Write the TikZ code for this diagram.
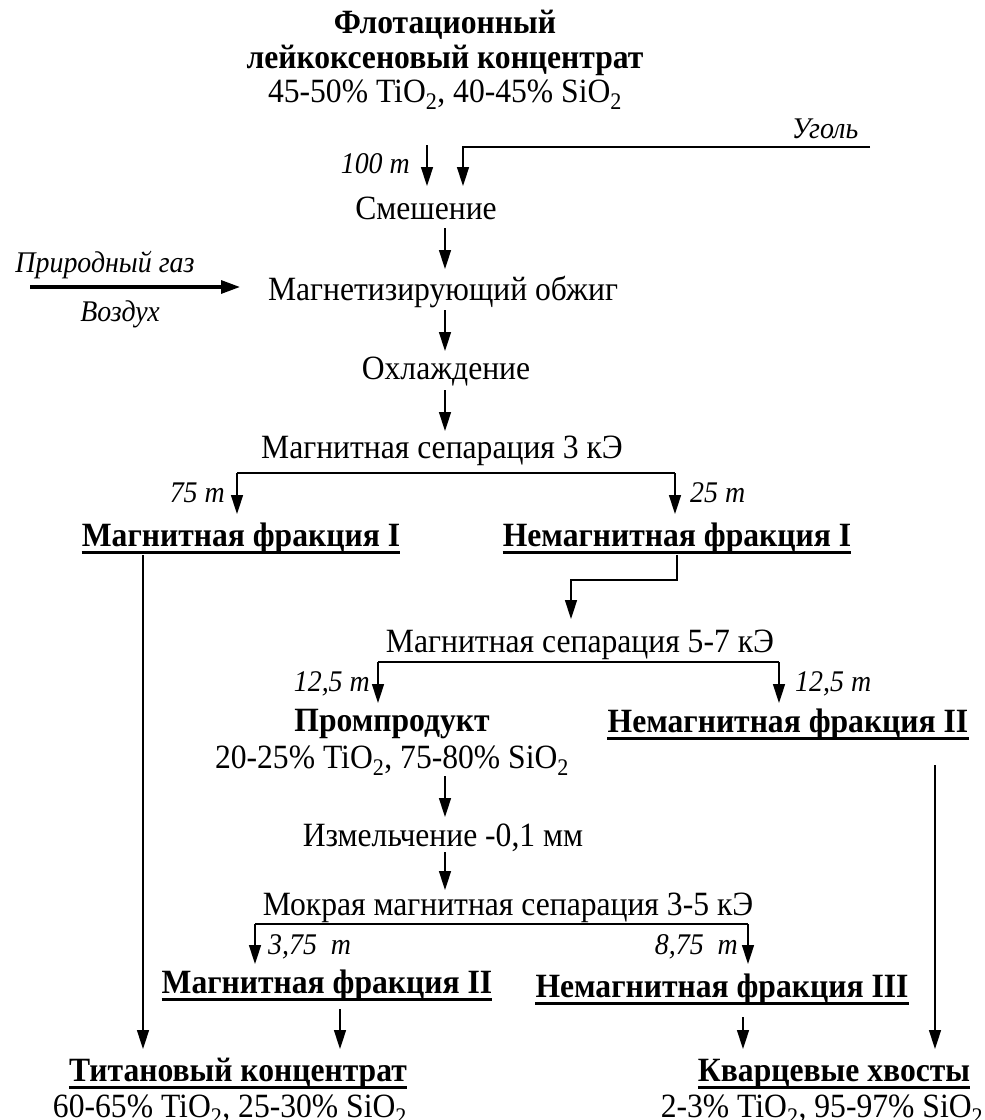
\documentclass[tikz,border=0pt]{standalone}
\usepackage{fontspec}
\setmainfont{Liberation Serif}[FakeStretch=0.93]
\usetikzlibrary{arrows.meta}
\begin{document}
\begin{tikzpicture}[x=1pt,y=-1pt,
  every node/.style={inner sep=0pt, anchor=base, font=\fontsize{34}{38}\selectfont},
  bt/.style={font=\fontsize{34}{38}\selectfont\bfseries},
  it/.style={font=\fontsize{30}{34}\selectfont\itshape},
  arr/.style={line width=1.5pt, -{Triangle[length=19pt,width=12pt]}},
  thickarr/.style={line width=3.2pt, -{Triangle[length=19pt,width=13pt]}},
  ln/.style={line width=1.5pt},
  ul/.style={line width=3pt},
]
\useasboundingbox (0,0) rectangle (985,1120);
% texts
\node[bt] (src1) at (445,33) {Флотационный};
\node[bt] (src2) at (445,68) {лейкоксеновый концентрат};
\node (src3) at (445,102) {45-50\% TiO\textsubscript{2}, 40-45\% SiO\textsubscript{2}};
\node[it] (ugol) at (825,138) {Уголь};
\node[it,anchor=base east] (l100) at (410,173) {100 т};
\node (mix) at (426,219) {Смешение};
\node[it] (gas) at (105,272) {Природный газ};
\node[it] (air) at (120,321) {Воздух};
\node (roast) at (443,300) {Магнетизирующий обжиг};
\node (cool) at (446,379) {Охлаждение};
\node (sep1) at (442,458) {Магнитная сепарация 3 кЭ};
\node[it,anchor=base east] (l75) at (225,502) {75 т};
\node[it,anchor=base west] (l25) at (690,502) {25 т};
\node[bt] (mf1) at (241,546) {Магнитная фракция I};
\node[bt] (nf1) at (677,546) {Немагнитная фракция I};
\node (sep2) at (580,652) {Магнитная сепарация 5-7 кЭ};
\node[it,anchor=base east] (l125a) at (370,691) {12,5 т};
\node[it,anchor=base west] (l125b) at (795,691) {12,5 т};
\node[bt] (pp) at (392,731) {Промпродукт};
\node (pp2) at (392,768) {20-25\% TiO\textsubscript{2}, 75-80\% SiO\textsubscript{2}};
\node[bt] (nf2) at (788,732) {Немагнитная фракция II};
\node (grind) at (443,846) {Измельчение -0,1 мм};
\node (wet) at (508,915) {Мокрая магнитная сепарация 3-5 кЭ};
\node[it,anchor=base west] (l375) at (268,954) {3,75~~т};
\node[it,anchor=base east] (l875) at (738,954) {8,75~~т};
\node[bt] (mf2) at (327,993) {Магнитная фракция II};
\node[bt] (nf3) at (722,997) {Немагнитная фракция III};
\node[bt] (ti) at (238,1081) {Титановый концентрат};
\node (ti2) at (230,1117) {60-65\% TiO\textsubscript{2}, 25-30\% SiO\textsubscript{2}};
\node[bt] (qz) at (834,1081) {Кварцевые хвосты};
\node (qz2) at (822,1117) {2-3\% TiO\textsubscript{2}, 95-97\% SiO\textsubscript{2}};
% underlines
\foreach \n in {mf1,nf1,nf2,mf2,nf3,ti,qz}
  \draw[ul] ([yshift=-6pt]\n.base west) -- ([yshift=-6pt]\n.base east);
% coordinates
\coordinate (a100s) at (427,145); \coordinate (a100e) at (427,186);
\coordinate (ug1) at (870,147); \coordinate (ug2) at (463,147); \coordinate (ug3) at (463,186);
\coordinate (m1s) at (445,228); \coordinate (m1e) at (445,269);
\coordinate (gs) at (30,287); \coordinate (ge) at (240,287);
\coordinate (r1s) at (445,310); \coordinate (r1e) at (445,351);
\coordinate (c1s) at (445,390); \coordinate (c1e) at (445,431);
\coordinate (s1l) at (237,473); \coordinate (s1r) at (675,473);
\coordinate (s1le) at (237,514); \coordinate (s1re) at (675,514);
\coordinate (n1a) at (677,555); \coordinate (n1b) at (677,580); \coordinate (n1c) at (571,580); \coordinate (n1d) at (571,619);
\coordinate (s2l) at (378,662); \coordinate (s2r) at (779,662);
\coordinate (s2le) at (378,703); \coordinate (s2re) at (779,703);
\coordinate (m1a) at (143,555); \coordinate (m1b) at (143,1049);
\coordinate (n2a) at (935,765); \coordinate (n2b) at (935,1049);
\coordinate (p1s) at (445,776); \coordinate (p1e) at (445,817);
\coordinate (g1s) at (445,852); \coordinate (g1e) at (445,890);
\coordinate (w1l) at (255,924); \coordinate (w1r) at (748,924);
\coordinate (w1le) at (255,964); \coordinate (w1re) at (748,964);
\coordinate (mf2s) at (340,1009); \coordinate (mf2e) at (340,1049);
\coordinate (nf3s) at (743,1017); \coordinate (nf3e) at (743,1049);
% connectors
\draw[arr] (a100s) -- (a100e);
\draw[arr] (ug1) -- (ug2) -- (ug3);
\draw[arr] (m1s) -- (m1e);
\draw[thickarr] (gs) -- (ge);
\draw[arr] (r1s) -- (r1e);
\draw[arr] (c1s) -- (c1e);
\draw[ln] (s1l) -- (s1r);
\draw[arr] (s1l) -- (s1le);
\draw[arr] (s1r) -- (s1re);
\draw[arr] (n1a) -- (n1b) -- (n1c) -- (n1d);
\draw[ln] (s2l) -- (s2r);
\draw[arr] (s2l) -- (s2le);
\draw[arr] (s2r) -- (s2re);
\draw[arr] (m1a) -- (m1b);
\draw[arr] (n2a) -- (n2b);
\draw[arr] (p1s) -- (p1e);
\draw[arr] (g1s) -- (g1e);
\draw[ln] (w1l) -- (w1r);
\draw[arr] (w1l) -- (w1le);
\draw[arr] (w1r) -- (w1re);
\draw[arr] (mf2s) -- (mf2e);
\draw[arr] (nf3s) -- (nf3e);
\end{tikzpicture}
\end{document}
